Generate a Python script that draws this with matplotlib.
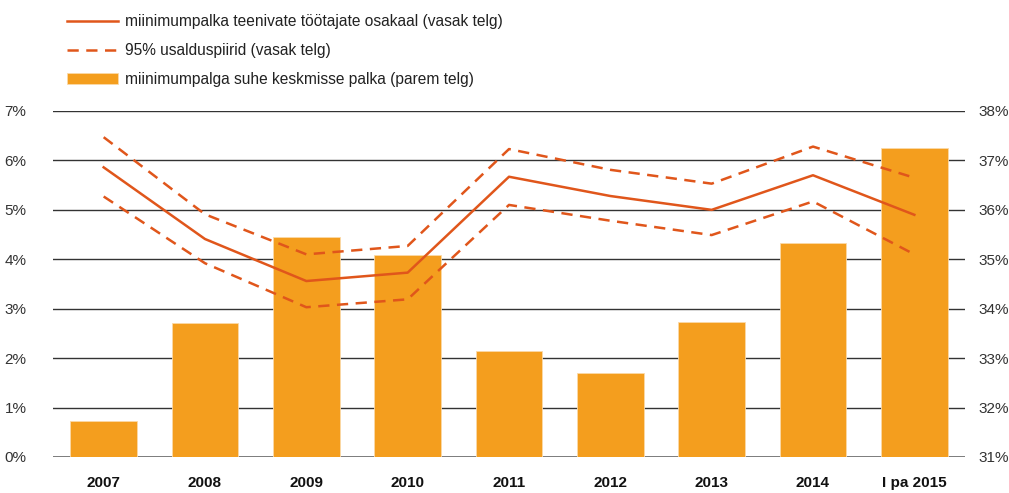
import matplotlib
matplotlib.use('Agg')
import matplotlib.pyplot as plt
import numpy as np

# andmed (loetud jooniselt)
aastad = ['2007', '2008', '2009', '2010', '2011', '2012', '2013', '2014', 'I pa 2015']
osakaal = [5.86, 4.41, 3.56, 3.73, 5.67, 5.28, 5.00, 5.70, 4.90]
ylem_piir = [6.47, 4.91, 4.10, 4.27, 6.23, 5.81, 5.53, 6.28, 5.65]
alum_piir = [5.27, 3.92, 3.03, 3.19, 5.10, 4.78, 4.49, 5.17, 4.10]
suhe_keskmisse = [31.73, 33.71, 35.46, 35.09, 33.15, 32.69, 33.74, 35.33, 37.26]

vasak_ticks = list(range(0, 8))
parem_ticks = list(range(31, 39))

JOON = '#E0561B'
TULP = '#F49E1E'
TEKST = '#333333'

plt.rcParams['font.family'] = ['Liberation Sans', 'DejaVu Sans']

fig = plt.figure(figsize=(10.09, 4.93), dpi=100)
ax = fig.add_axes([53 / 1009, 1 - 457 / 493, 912 / 1009, 346 / 493])
ax2 = ax.twinx()

x = np.arange(len(aastad))

# tulbad paremal teljel
for y in parem_ticks:
    ax2.axhline(y, color='#333333' if y != 31 else '#555555',
                lw=1.0 if y != 31 else 1.8, zorder=0)
tulbad = ax2.bar(x, suhe_keskmisse, width=0.66, bottom=0, color=TULP,
                 edgecolor='#FBD9A8', linewidth=0.6, zorder=2,
                 label='miinimumpalga suhe keskmisse palka (parem telg)')
ax2.set_ylim(31, 38)
ax2.set_yticks(parem_ticks)
ax2.set_yticklabels([f'{v}%' for v in parem_ticks])

# jooned vasakul teljel
l1, = ax.plot(x, osakaal, color=JOON, lw=1.8,
              label='miinimumpalka teenivate töötajate osakaal (vasak telg)')
l2, = ax.plot(x, ylem_piir, color=JOON, lw=1.8, dashes=(4.5, 3),
              label='95% usalduspiirid (vasak telg)')
ax.plot(x, alum_piir, color=JOON, lw=1.8, dashes=(4.5, 3))
ax.set_ylim(0, 7)
ax.set_yticks(vasak_ticks)
ax.set_yticklabels([f'{v}%' for v in vasak_ticks])
ax.set_xlim(-0.5, len(aastad) - 0.5)
ax.set_xticks(x)
ax.set_xticklabels(aastad, fontweight='bold',
                   family=['Liberation Sans Narrow', 'Liberation Sans'],
                   fontsize=11, color='#111111')

ax.set_zorder(ax2.get_zorder() + 1)
ax.patch.set_visible(False)

for a in (ax, ax2):
    for s in a.spines.values():
        s.set_visible(False)
    a.tick_params(length=0, labelsize=11, labelcolor=TEKST)
ax.tick_params(axis='y', pad=19)
ax.tick_params(axis='x', pad=14, labelcolor='#111111')
ax2.tick_params(axis='y', pad=10)

fig.legend(handles=[l1, l2, tulbad], loc='upper left',
           bbox_to_anchor=(67 / 1009, 1 - 14 / 493), frameon=False,
           fontsize=11.2, handlelength=3.3, handletextpad=0.4,
           labelspacing=0.9, borderpad=0, borderaxespad=0,
           labelcolor='#222222')

fig.savefig('out.png', dpi=100)
